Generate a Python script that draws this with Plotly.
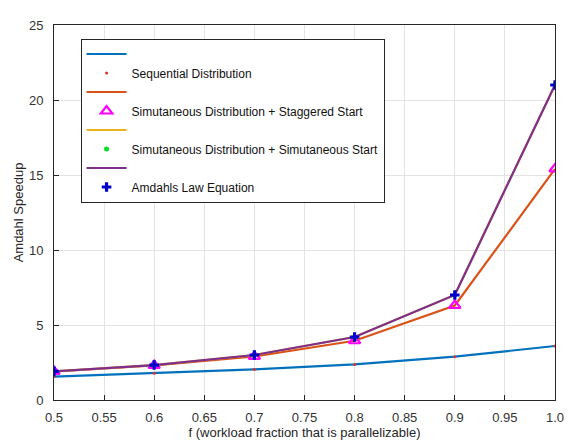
import plotly.graph_objects as go

f_vals = [0.5, 0.6, 0.7, 0.8, 0.9, 1.0]
sequential = [1.56, 1.78, 2.04, 2.37, 2.89, 3.6]
staggered = [1.9, 2.3, 2.9, 3.95, 6.3, 15.4]
simultaneous = [1.91, 2.33, 3.0, 4.2, 7.0, 21.0]
amdahl = [1.91, 2.33, 3.0, 4.2, 7.0, 21.0]

x_ticks = [0.5, 0.55, 0.6, 0.65, 0.7, 0.75, 0.8, 0.85, 0.9, 0.95, 1.0]
x_tick_text = ["0.5", "0.55", "0.6", "0.65", "0.7", "0.75", "0.8", "0.85", "0.9", "0.95", "1.0"]
y_ticks = [0, 5, 10, 15, 20, 25]

FONT = "Liberation Sans, Arial, sans-serif"

fig = go.Figure()
# MATLAB-style: line series (no legend text) followed by marker series (named)
fig.add_trace(go.Scatter(x=f_vals, y=sequential, mode="lines", name="",
                         line=dict(color="#0072BD", width=2.2)))
fig.add_trace(go.Scatter(x=f_vals, y=sequential, mode="markers", name="Sequential Distribution",
                         marker=dict(color="#E03030", size=3, symbol="circle")))
fig.add_trace(go.Scatter(x=f_vals, y=staggered, mode="lines", name="",
                         line=dict(color="#D95319", width=2.2)))
fig.add_trace(go.Scatter(x=f_vals, y=staggered, mode="markers",
                         name="Simutaneous Distribution + Staggered Start",
                         marker=dict(color="#FF00FF", size=10, symbol="triangle-up-open",
                                     line=dict(width=2.2, color="#FF00FF"))))
fig.add_trace(go.Scatter(x=f_vals, y=simultaneous, mode="lines", name="",
                         line=dict(color="#EDB120", width=2.2)))
fig.add_trace(go.Scatter(x=f_vals, y=simultaneous, mode="markers",
                         name="Simutaneous Distribution + Simutaneous Start",
                         marker=dict(color="#00E020", size=5, symbol="circle")))
fig.add_trace(go.Scatter(x=f_vals, y=amdahl, mode="lines", name="",
                         line=dict(color="#7E2F8E", width=2.2)))
fig.add_trace(go.Scatter(x=f_vals, y=amdahl, mode="markers", name="Amdahls Law Equation",
                         marker=dict(color="#0000CC", size=8, symbol="cross",
                                     line=dict(width=0))))

axis_common = dict(showgrid=True, gridcolor="#E3E3E3", gridwidth=1,
                   showline=True, linecolor="#262626", linewidth=1, mirror=True,
                   ticks="inside", ticklen=5, tickcolor="#262626",
                   tickfont=dict(family=FONT, size=13, color="#333333"),
                   zeroline=False)

fig.update_xaxes(range=[0.5, 1.0], tickvals=x_ticks, ticktext=x_tick_text,
                 ticklabelstandoff=5,
                 title=dict(text="f (workload fraction that is parallelizable)",
                            font=dict(family=FONT, size=13, color="#262626"),
                            standoff=4),
                 **axis_common)
fig.update_yaxes(range=[0, 25], tickvals=y_ticks, ticklabelstandoff=7,
                 title=dict(text="Amdahl Speedup",
                            font=dict(family=FONT, size=13, color="#262626"),
                            standoff=2),
                 **axis_common)

fig.update_layout(
    width=566, height=440,
    margin=dict(l=45, r=16, t=10, b=46),
    plot_bgcolor="white", paper_bgcolor="white",
    legend=dict(x=0.053, y=0.964, xanchor="left", yanchor="top",
                bgcolor="white", bordercolor="#262626", borderwidth=1,
                font=dict(family=FONT, size=12, color="#111111"),
                tracegroupgap=0, itemwidth=40),
    showlegend=True,
)

fig.write_html("out.html")
